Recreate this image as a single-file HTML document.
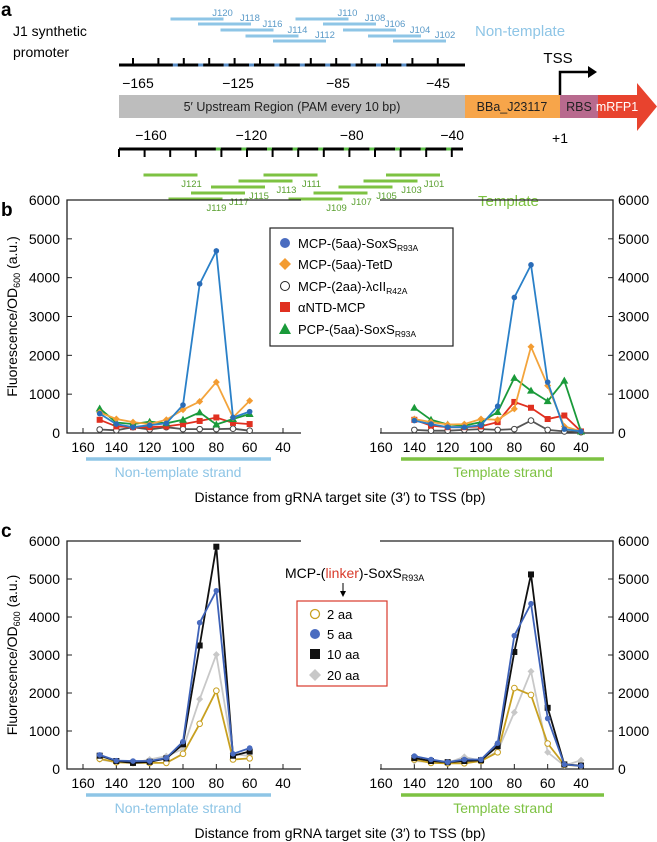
<!DOCTYPE html>
<html><head><meta charset="utf-8"><style>
body{margin:0;background:#fff;}
svg{display:block;font-family:"Liberation Sans",Arial,sans-serif;}
</style></head><body>
<svg id="fig" width="657" height="842" viewBox="0 0 657 842" xmlns="http://www.w3.org/2000/svg">
<g>
<text x="1" y="16" font-size="19" font-weight="bold">a</text>
<text x="13" y="36" font-size="14">J1 synthetic</text>
<text x="13" y="57" font-size="14">promoter</text>
<text x="475" y="36" font-size="15" fill="#8ec5e6">Non-template</text>
<text x="478" y="206" font-size="15" fill="#7dc242">Template</text>
<g id="guidesTop"></g>
<g id="guidesBot"></g>
<g id="rulers"></g>
<rect x="119" y="95" width="346" height="23" fill="#bdbdbd"/>
<text x="292" y="111" font-size="12.5" text-anchor="middle" fill="#222">5′ Upstream Region (PAM every 10 bp)</text>
<rect x="465" y="95" width="95" height="23" fill="#f7a54a"/>
<text x="512" y="111" font-size="12.5" text-anchor="middle" fill="#222">BBa_J23117</text>
<rect x="560" y="95" width="38" height="23" fill="#b86a8e"/>
<text x="579" y="111" font-size="12.5" text-anchor="middle" fill="#222">RBS</text>
<polygon points="598,95 637,95 637,83 657,106.5 637,131 637,118 598,118" fill="#e8432e"/>
<text x="617" y="111" font-size="12.5" text-anchor="middle" fill="#fff">mRFP1</text>
<path d="M560,95 V72 H590" stroke="#000" stroke-width="2.5" fill="none"/>
<polygon points="588,66 597,72 588,78" fill="#000"/>
<text x="558" y="63" font-size="15" text-anchor="middle">TSS</text>
<text x="560" y="143" font-size="14" text-anchor="middle">+1</text>
</g>

<text x="1" y="216" font-size="19" font-weight="bold">b</text>
<text x="1" y="537" font-size="19" font-weight="bold">c</text>
<g id="panelB"></g>
<g id="panelC"></g>

<g>
<rect x="270" y="228" width="183" height="118" fill="#fff" stroke="#222" stroke-width="1.2"/>
<g><circle cx="285" cy="243" r="5" fill="#4a6cc0"/><text x="298" y="248" font-size="13">MCP-(5aa)-SoxS<tspan font-size="8.5" dy="3">R93A</tspan></text></g>
<g><polygon points="285,258 291,264 285,270 279,264" fill="#f39c32"/><text x="298" y="269" font-size="13">MCP-(5aa)-TetD</text></g>
<g><circle cx="285" cy="286" r="4.5" fill="#fff" stroke="#222" stroke-width="1"/><text x="298" y="291" font-size="13">MCP-(2aa)-λcII<tspan font-size="8.5" dy="3">R42A</tspan></text></g>
<g><rect x="280" y="302" width="10" height="10" fill="#e03020"/><text x="298" y="312" font-size="13">αNTD-MCP</text></g>
<g><polygon points="285,323 291,334 279,334" fill="#1a9a3a"/><text x="298" y="334" font-size="13">PCP-(5aa)-SoxS<tspan font-size="8.5" dy="3">R93A</tspan></text></g>
</g>

<g>
<text x="285" y="578" font-size="14">MCP-(<tspan fill="#d93a2b">linker</tspan>)-SoxS<tspan font-size="9" dy="3">R93A</tspan></text>
<line x1="343" y1="583" x2="343" y2="593" stroke="#000" stroke-width="1"/>
<polygon points="340,591 346,591 343,597" fill="#000"/>
<rect x="297" y="601" width="90" height="85" fill="#fff" stroke="#d93a2b" stroke-width="1.2"/>
<g><circle cx="315" cy="614" r="4.5" fill="#fff" stroke="#c8a020" stroke-width="1.3"/><text x="327" y="619" font-size="13">2 aa</text></g>
<g><circle cx="315" cy="634" r="5" fill="#4a6cc0"/><text x="327" y="639" font-size="13">5 aa</text></g>
<g><rect x="310" y="649" width="10" height="10" fill="#111"/><text x="327" y="659" font-size="13">10 aa</text></g>
<g><polygon points="315,669 321,675 315,681 309,675" fill="#c8c8c8"/><text x="327" y="680" font-size="13">20 aa</text></g>
</g>
</svg>
<script>
const topGuideNames = ["J120","J110","J118","J108","J116","J106","J114","J104","J112","J102"];
const topGuideStart = [-152,-102,-141,-91,-132,-83,-122,-73,-111,-63];
const botGuideNames = ["J121","J111","J101","J113","J103","J115","J105","J117","J107","J119","J109"];
const botGuideStart = [-162,-114,-65,-124,-74,-135,-84,-143,-94,-152,-104];

const xNonTemplate = [150,140,130,120,110,100,90,80,70,60];
const xTemplate = [140,130,120,110,100,90,80,70,60,50,40];
const bSoxsNT = [500,230,150,200,250,720,3840,4690,400,550];
const bTetdNT = [530,360,280,230,340,600,810,1310,400,830];
const bLambdaNT = [90,70,150,90,150,100,100,100,110,60];
const bAntdNT = [340,170,150,150,170,230,310,400,260,230];
const bPcpNT = [630,270,230,290,250,340,530,220,360,490];
const bSoxsT = [320,230,150,150,200,690,3490,4330,1310,100,40];
const bTetdT = [360,280,220,230,360,340,620,2220,1220,170,40];
const bLambdaT = [80,60,60,80,100,80,100,320,80,40,20];
const bAntdT = [340,190,150,150,170,280,800,650,360,450,40];
const bPcpT = [650,340,220,190,280,540,1420,1090,820,1350,40];

const c2aaNT = [270,180,160,160,160,400,1190,2060,250,280];
const c5aaNT = [370,220,210,210,290,720,3850,4690,400,550];
const c10aaNT = [350,210,160,190,280,650,3250,5850,350,460];
const c20aaNT = [250,180,160,250,340,530,1840,3010,400,340];
const c2aaT = [250,160,150,150,210,440,2130,1950,670,110,80];
const c5aaT = [340,250,180,250,250,680,3510,4350,1330,120,80];
const c10aaT = [290,210,180,210,230,600,3080,5120,1610,120,90];
const c20aaT = [210,180,160,320,210,470,1490,2570,440,90,230];

const yTicks = [0,1000,2000,3000,4000,5000,6000];
const xTickLabels = [160,140,120,100,80,60,40];

const NS = "http://www.w3.org/2000/svg";
function mk(tag, attrs, parent){
  const e = document.createElementNS(NS, tag);
  for (const k in attrs) e.setAttribute(k, attrs[k]);
  parent.appendChild(e);
  return e;
}

const bpX = bp => 138 + (bp + 165) * 2.5;
const rulers = document.getElementById('rulers');
let l = mk('line',{x1:119,y1:65,x2:465,y2:65,stroke:'#000','stroke-width':3},rulers);
 
l = mk('line',{x1:119,y1:149,x2:463,y2:149,stroke:'#000','stroke-width':3},rulers);
 
for (let i=0;i<14;i++){
  const x = 119 + i*25.4;
  if(i<13){
    let t = mk('line',{x1:x+14,y1:65,x2:x+14,y2:58,stroke:'#000','stroke-width':2},rulers);
     
  }
  if(i>=2 && i<12){
    let p = mk('line',{x1:x+3,y1:65,x2:x+8,y2:65,stroke:'#5b8fc8','stroke-width':3},rulers);
     
  }
  const xb = 119 + i*25.6;
  let t2 = mk('line',{x1:xb,y1:149,x2:xb,y2:157,stroke:'#000','stroke-width':2},rulers);
   
  if(i>=3 && i<13){
    let p = mk('line',{x1:xb+20,y1:149,x2:xb+25,y2:149,stroke:'#5fc04a','stroke-width':3},rulers);
     
  }
}
const topRulerLabels = [-165,-125,-85,-45];
topRulerLabels.forEach(v=>{
  const t = mk('text',{x:bpX(v),y:88,'font-size':14,'text-anchor':'middle'},rulers);
  t.textContent = '\u2212'+Math.abs(v);
   
});
const botRulerLabels = [-160,-120,-80,-40];
botRulerLabels.forEach(v=>{
  const t = mk('text',{x:151+(v+160)*2.51,y:140,'font-size':14,'text-anchor':'middle'},rulers);
  t.textContent = '\u2212'+Math.abs(v);
   
});
const gt = document.getElementById('guidesTop');
const topRowY = [19,19,24,24,30,30,36,36,41,41];
topGuideNames.forEach((n,i)=>{
  const x1 = bpX(topGuideStart[i]); const x2 = x1+53;
  const y = topRowY[i];
  const g = mk('line',{x1:x1,y1:y,x2:x2,y2:y,stroke:'#8ec5e6','stroke-width':3},gt);
   
  const t = mk('text',{x:x2-1,y:y-3,'font-size':9.5,'text-anchor':'middle',fill:'#5a9ac8'},gt);
  t.textContent = n;
   
});
const gb = document.getElementById('guidesBot');
const botRowY = [175,175,175,181,181,187,187,193,193,199,199];
botGuideNames.forEach((n,i)=>{
  const x1 = bpX(botGuideStart[i]) - 2; const x2 = x1+54;
  const y = botRowY[i];
  const g = mk('line',{x1:x1,y1:y,x2:x2,y2:y,stroke:'#7dc242','stroke-width':3},gb);
   
  const t = mk('text',{x:x2-6,y:y+12,'font-size':9.5,'text-anchor':'middle',fill:'#5aa030'},gb);
  t.textContent = n;
   
});

function marker(parent, shape, x, y, fill, stroke){
  let m;
  if(shape==='circle') m = mk('circle',{cx:x,cy:y,r:2.8,fill:fill},parent);
  else if(shape==='ocircle') m = mk('circle',{cx:x,cy:y,r:2.8,fill:'#fff',stroke:stroke,'stroke-width':1},parent);
  else if(shape==='square') m = mk('rect',{x:x-3,y:y-3,width:6,height:6,fill:fill},parent);
  else if(shape==='diamond') m = mk('polygon',{points:`${x},${y-3.5} ${x+3.5},${y} ${x},${y+3.5} ${x-3.5},${y}`,fill:fill},parent);
  else m = mk('polygon',{points:`${x},${y-4} ${x+4},${y+3} ${x-4},${y+3}`,fill:fill},parent);
   
}
function drawPanel(gid, top, bottom, series){
  const g = document.getElementById(gid);
  const yS = v => bottom - (v/6000)*(bottom-top);
  const xL = d => 83 + (160-d)*(200/120);
  const xR = d => 381 + (160-d)*(200/120);
  let a = mk('path',{d:`M301,${top} H67 V${bottom} H301`,stroke:'#222','stroke-width':1.3,fill:'none'},g);
   
  a = mk('path',{d:`M380,${top} H613 V${bottom} H380`,stroke:'#222','stroke-width':1.3,fill:'none'},g);
   
  yTicks.forEach(v=>{
    let t = mk('line',{x1:67,y1:yS(v),x2:72,y2:yS(v),stroke:'#222','stroke-width':1},g);
     
    t = mk('line',{x1:608,y1:yS(v),x2:613,y2:yS(v),stroke:'#222','stroke-width':1},g);
     
    let s = mk('text',{x:60,y:yS(v)+5,'font-size':14,'text-anchor':'end'},g);
    s.textContent = v;
     
    s = mk('text',{x:618,y:yS(v)+5,'font-size':14,'text-anchor':'start'},g);
    s.textContent = v;
     
  });
  xTickLabels.forEach(d=>{
    [xL(d), xR(d)].forEach(x=>{
      let t = mk('line',{x1:x,y1:bottom,x2:x,y2:bottom-5,stroke:'#222','stroke-width':1},g);
       
      let s = mk('text',{x:x,y:bottom+19,'font-size':14,'text-anchor':'middle'},g);
      s.textContent = d;
       
    });
  });
  let b = mk('line',{x1:86,y1:bottom+26,x2:271,y2:bottom+26,stroke:'#8ec5e6','stroke-width':3.5},g);
   
  b = mk('line',{x1:401,y1:bottom+26,x2:604,y2:bottom+26,stroke:'#7dc242','stroke-width':3.5},g);
   
  let s = mk('text',{x:178,y:bottom+44,'font-size':14,'text-anchor':'middle',fill:'#8ec5e6'},g);
  s.textContent='Non-template strand';
   
  s = mk('text',{x:503,y:bottom+44,'font-size':14,'text-anchor':'middle',fill:'#7dc242'},g);
  s.textContent='Template strand';
   
  s = mk('text',{x:340,y:bottom+69,'font-size':14,'text-anchor':'middle'},g);
  s.textContent='Distance from gRNA target site (3\u2032) to TSS (bp)';
   
  const cy = (top+bottom)/2;
  s = mk('text',{x:17,y:cy,'font-size':14,'text-anchor':'middle',transform:`rotate(-90 17 ${cy})`},g);
  s.innerHTML = 'Fluorescence/OD<tspan font-size="9" dy="3">600</tspan><tspan dy="-3"> (a.u.)</tspan>';
   
  series.forEach(se=>{
    [[xNonTemplate, se.nt, xL],[xTemplate, se.t, xR]].forEach(([xs, ys, xf])=>{
      const pts = xs.map((d,i)=>`${xf(d).toFixed(1)},${yS(ys[i]).toFixed(1)}`).join(' ');
      const p = mk('polyline',{points:pts,fill:'none',stroke:se.line,'stroke-width':1.8},g);
       
      xs.forEach((d,i)=>marker(g, se.shape, xf(d), yS(ys[i]), se.fill, se.stroke));
    });
  });
}
drawPanel('panelB', 200, 433, [
  {name:'lambda', nt:bLambdaNT, t:bLambdaT, line:'#555', shape:'ocircle', fill:'#fff', stroke:'#444'},
  {name:'antd', nt:bAntdNT, t:bAntdT, line:'#e03020', shape:'square', fill:'#e03020'},
  {name:'pcp', nt:bPcpNT, t:bPcpT, line:'#1a9a3a', shape:'triangle', fill:'#1a9a3a'},
  {name:'tetd', nt:bTetdNT, t:bTetdT, line:'#f3a43c', shape:'diamond', fill:'#f39c32'},
  {name:'soxs', nt:bSoxsNT, t:bSoxsT, line:'#2a80c8', shape:'circle', fill:'#2a6cb8'}
]);
drawPanel('panelC', 541, 769, [
  {name:'20aa', nt:c20aaNT, t:c20aaT, line:'#c8c8c8', shape:'diamond', fill:'#c8c8c8'},
  {name:'2aa', nt:c2aaNT, t:c2aaT, line:'#c8a020', shape:'ocircle', fill:'#fff', stroke:'#c8a020'},
  {name:'10aa', nt:c10aaNT, t:c10aaT, line:'#111', shape:'square', fill:'#111'},
  {name:'5aa', nt:c5aaNT, t:c5aaT, line:'#3e62b8', shape:'circle', fill:'#4a6cc0'}
]);
</script>
</body></html>
